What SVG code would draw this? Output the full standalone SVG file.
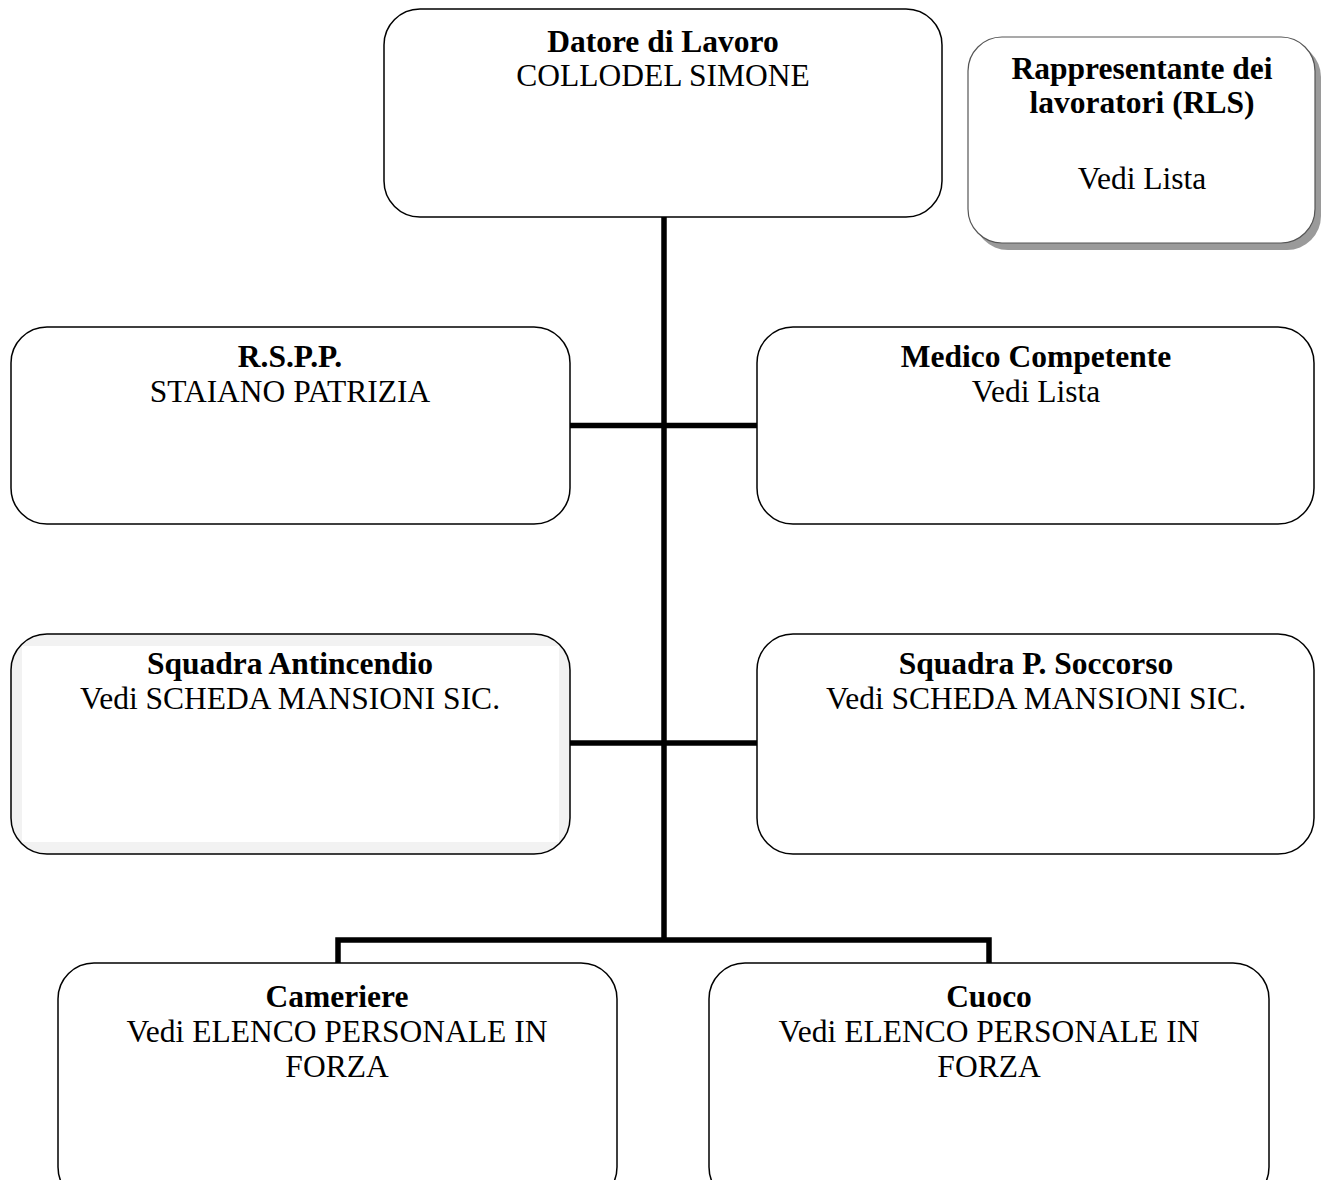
<svg xmlns="http://www.w3.org/2000/svg" width="1322" height="1180" viewBox="0 0 1322 1180">
<style>
.box{fill:#fff;stroke:#000;stroke-width:1.5}
.t{font-family:"Liberation Serif","Times New Roman",serif;font-size:31.5px;text-anchor:middle;fill:#000}
.b{font-weight:bold}
.c{fill:none;stroke:#000;stroke-width:5.5}
</style>
<rect width="1322" height="1180" fill="#fff"/>
<g id="connectors">
<line class="c" x1="664" y1="217" x2="664" y2="942"/>
<line class="c" x1="570" y1="425.5" x2="757" y2="425.5"/>
<line class="c" x1="570" y1="743" x2="757" y2="743"/>
<polyline class="c" points="338,963 338,940 989,940 989,963"/>
</g>
<g id="datore">
<rect class="box" x="384" y="9" width="558" height="208" rx="36"/>
<text class="t b" x="663" y="52">Datore di Lavoro</text>
<text class="t" x="663" y="86">COLLODEL SIMONE</text>
</g>
<g id="rls">
<rect x="974" y="43" width="347" height="207" rx="34" fill="#9a9a9a"/>
<rect x="968" y="37" width="347" height="206" rx="34" fill="#fff" stroke="#555" stroke-width="1.2"/>
<text class="t b" x="1142" y="79">Rappresentante dei</text>
<text class="t b" x="1142" y="113">lavoratori (RLS)</text>
<text class="t" x="1142" y="189">Vedi Lista</text>
</g>
<g id="rspp">
<rect class="box" x="11" y="327" width="559" height="197" rx="36"/>
<text class="t b" x="290" y="367">R.S.P.P.</text>
<text class="t" x="290" y="402">STAIANO PATRIZIA</text>
</g>
<g id="medico">
<rect class="box" x="757" y="327" width="557" height="197" rx="36"/>
<text class="t b" x="1036" y="367">Medico Competente</text>
<text class="t" x="1036" y="402">Vedi Lista</text>
</g>
<g id="antincendio">
<rect class="box" x="11" y="634" width="559" height="220" rx="36" style="fill:#f2f2f2"/>
<rect x="22" y="646" width="537" height="196" fill="#fff"/>
<text class="t b" x="290" y="674">Squadra Antincendio</text>
<text class="t" x="290" y="709">Vedi SCHEDA MANSIONI SIC.</text>
</g>
<g id="soccorso">
<rect class="box" x="757" y="634" width="557" height="220" rx="36"/>
<text class="t b" x="1036" y="674">Squadra P. Soccorso</text>
<text class="t" x="1036" y="709">Vedi SCHEDA MANSIONI SIC.</text>
</g>
<g id="cameriere">
<rect class="box" x="58" y="963" width="559" height="240" rx="36"/>
<text class="t b" x="337" y="1007">Cameriere</text>
<text class="t" x="337" y="1042">Vedi ELENCO PERSONALE IN</text>
<text class="t" x="337" y="1077">FORZA</text>
</g>
<g id="cuoco">
<rect class="box" x="709" y="963" width="560" height="240" rx="36"/>
<text class="t b" x="989" y="1007">Cuoco</text>
<text class="t" x="989" y="1042">Vedi ELENCO PERSONALE IN</text>
<text class="t" x="989" y="1077">FORZA</text>
</g>
</svg>
